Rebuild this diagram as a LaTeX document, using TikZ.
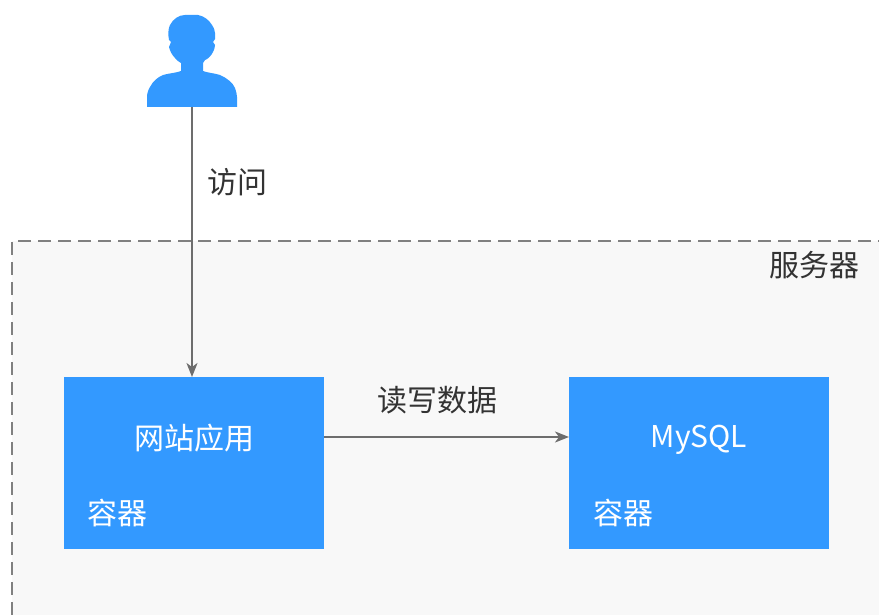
\documentclass[tikz,border=0pt]{standalone}
\usepackage{fontspec}
\setmainfont{Noto Sans CJK SC}
\usetikzlibrary{arrows.meta}
\definecolor{cblue}{HTML}{3399FF}
\definecolor{cgrey}{HTML}{808080}
\definecolor{cpanel}{HTML}{F8F8F8}
\definecolor{ctext}{HTML}{333333}
\tikzset{
  x=1pt,y=-1pt,
  box/.style={fill=cblue,draw=none,minimum width=260pt,minimum height=172pt,inner sep=0pt,outer sep=0pt},
  arrowline/.style={draw=cgrey!85!black,line width=1.6pt,-{Stealth[length=14pt,width=11pt,inset=4pt]}},
  label/.style={font=\fontsize{30}{34}\selectfont,text=ctext,inner sep=0pt},
  wlabel/.style={font=\fontsize{30}{34}\selectfont,text=white,inner sep=0pt},
}
\begin{document}
\begin{tikzpicture}
\useasboundingbox (0,0) rectangle (879,615);
\fill[white] (0,0) rectangle (879,615);
% server panel
\fill[cpanel] (12,241) rectangle (879,615);
\draw[cgrey,line width=2.2pt,dash pattern=on 13pt off 7pt] (12,615) -- (12,241) -- (879,241);
\node[label,anchor=center] (server) at (814.5,265) {服务器};
% user icon
\node[inner sep=0pt,outer sep=0pt,minimum width=90pt,minimum height=92pt] (user) at (192,61) {};
\fill[cblue] (181,71) -- (181,63) .. controls (178,61) and (176,60) .. (175,58)
  .. controls (172,55) and (170,51) .. (169,47) -- (171,42) -- (169,40)
  .. controls (168,35) and (168,29) .. (170,25)
  .. controls (173,19) and (179,15) .. (185,15) -- (198,15)
  .. controls (204,16) and (209,20) .. (212,25)
  .. controls (214,28) and (215,31) .. (215,33)
  -- (215,39) -- (213,42) -- (215,45)
  .. controls (215,48) and (214,50) .. (213,52)
  .. controls (211,56) and (208,59) .. (205,60)
  -- (203,63) -- (203,71)
  .. controls (208,73) and (214,73) .. (220,75)
  .. controls (227,78) and (233,83) .. (235,88)
  .. controls (236,91) and (237,94) .. (237,97) -- (237,107) -- (147,107) -- (147,97)
  .. controls (147,94) and (148,90) .. (150,87)
  .. controls (153,81) and (158,77) .. (163,75)
  .. controls (170,73) and (176,73) .. (181,71) -- cycle;
% containers
\node[box] (web) at (194,463) {};
\node[box] (db) at (699,463) {};
\node[wlabel] (webname) at (194,438) {网站应用};
\node[wlabel] (dbname) at (699,440) {MySQL};
\node[wlabel,anchor=center] (webtag) at (117.5,513) {容器};
\node[wlabel,anchor=center] (dbtag) at (623.5,513) {容器};
% connectors
\draw[arrowline] (user.south) -- (user.south |- web.north);
\draw[arrowline] (web.east |- 0,437) -- (db.west |- 0,437);
\node[label] (visit) at (237.5,182) {访问};
\node[label] (rw) at (437.5,400) {读写数据};
\end{tikzpicture}
\end{document}
